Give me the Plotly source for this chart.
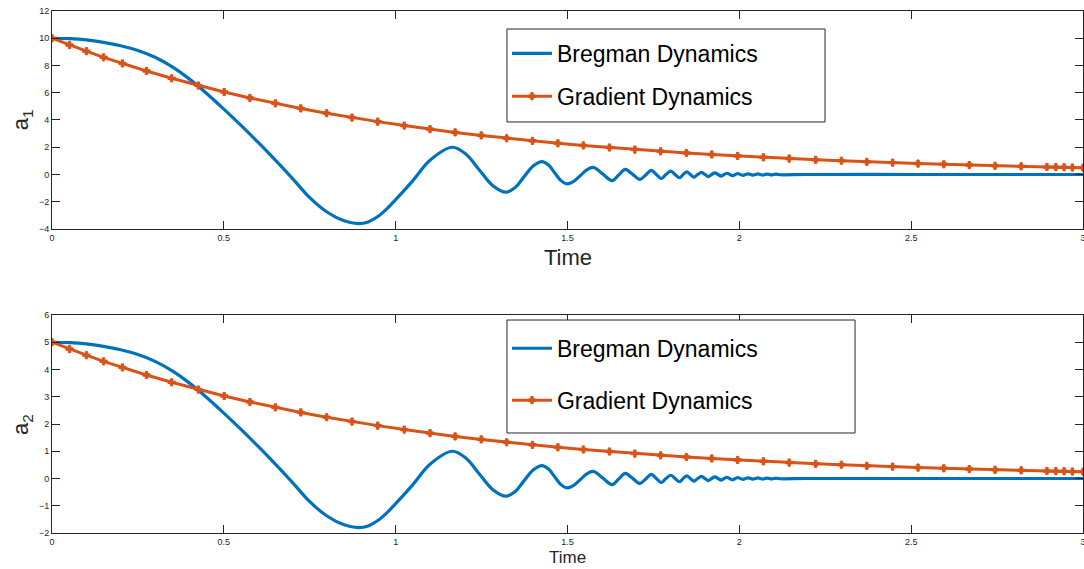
import plotly.graph_objects as go

# ---------------- data ----------------
bregman_t = [0.0, 0.05, 0.1, 0.15, 0.2, 0.25, 0.3, 0.35, 0.4, 0.45, 0.5, 0.55, 0.6, 0.65,
             0.7, 0.75, 0.8, 0.85, 0.89, 0.92, 0.95, 0.975, 1.0, 1.05, 1.1, 1.165,
             1.204, 1.243, 1.282, 1.321, 1.347, 1.3735, 1.40, 1.426, 1.444, 1.4625, 1.481,
             1.499, 1.518, 1.537, 1.556, 1.575, 1.6025, 1.630, 1.649, 1.668, 1.6895,
             1.711, 1.7275, 1.744, 1.7585, 1.773, 1.7865, 1.800, 1.813, 1.826, 1.8365,
             1.847, 1.8575, 1.868, 1.879, 1.890, 1.900, 1.910, 1.9195, 1.929, 1.938,
             1.947, 1.9555, 1.964, 1.972, 1.980, 1.988, 1.996, 2.0035, 2.011, 2.0185,
             2.026, 2.033, 2.040, 2.047, 2.054, 2.061, 2.068, 2.0745, 2.081, 2.0875,
             2.094, 2.1005, 2.107, 2.1135, 2.12, 2.2, 2.5, 2.8, 3.0]
bregman_a1 = [10.0, 9.97, 9.88, 9.7, 9.45, 9.1, 8.6, 7.9, 7.0, 5.95, 4.8, 3.6, 2.35, 1.05,
              -0.3, -1.7, -2.75, -3.4, -3.6, -3.48, -3.05, -2.5, -1.85, -0.45, 1.05, 2.0,
              1.5, 0.35, -0.8, -1.3, -0.97, -0.175, 0.62, 0.95, 0.71, 0.13, -0.45,
              -0.69, -0.51, -0.085, 0.34, 0.52, 0.035, -0.45, -0.035, 0.38, 0.01,
              -0.36, -0.03, 0.30, 0.0, -0.30, 0.0, 0.24, 0.0, -0.24, 0.0,
              0.19, 0.0, -0.19, 0.0, 0.15, 0.0, -0.15, 0.0, 0.12, 0.0,
              -0.12, 0.0, 0.09, 0.0, -0.09, 0.0, 0.07, 0.0, -0.07, 0.0,
              0.05, 0.0, -0.05, 0.0, 0.04, 0.0, -0.04, 0.0, 0.03, 0.0,
              -0.03, 0.0, 0.02, 0.0, -0.02, 0.0, 0.0, 0.0, 0.0]
bregman_a2 = [5.0, 4.985, 4.94, 4.85, 4.725, 4.55, 4.3, 3.95, 3.5, 2.975, 2.4, 1.8, 1.175, 0.525,
              -0.15, -0.85, -1.375, -1.7, -1.8, -1.74, -1.525, -1.25, -0.925, -0.225, 0.525, 1.0,
              0.75, 0.175, -0.4, -0.65, -0.485, -0.0875, 0.31, 0.475, 0.355, 0.065, -0.225,
              -0.345, -0.255, -0.0425, 0.17, 0.26, 0.0175, -0.225, -0.0175, 0.19, 0.005,
              -0.18, -0.015, 0.15, 0.0, -0.15, 0.0, 0.12, 0.0, -0.12, 0.0,
              0.095, 0.0, -0.095, 0.0, 0.075, 0.0, -0.075, 0.0, 0.06, 0.0,
              -0.06, 0.0, 0.045, 0.0, -0.045, 0.0, 0.035, 0.0, -0.035, 0.0,
              0.025, 0.0, -0.025, 0.0, 0.02, 0.0, -0.02, 0.0, 0.015, 0.0,
              -0.015, 0.0, 0.01, 0.0, -0.01, 0.0, 0.0, 0.0, 0.0]

gradient_t = [0.0, 0.051, 0.100, 0.150, 0.205, 0.275, 0.348, 0.426, 0.501, 0.576, 0.650,
              0.724, 0.799, 0.873, 0.948, 1.025, 1.100, 1.173, 1.249, 1.323, 1.398,
              1.472, 1.546, 1.622, 1.696, 1.771, 1.846, 1.920, 1.995, 2.070, 2.145,
              2.222, 2.297, 2.371, 2.446, 2.520, 2.595, 2.669, 2.744, 2.820, 2.895,
              2.921, 2.945, 2.969, 3.0]
gradient_a1 = [10.0, 9.5, 9.05, 8.6, 8.15, 7.6, 7.06, 6.53, 6.06, 5.62, 5.22,
               4.85, 4.5, 4.18, 3.88, 3.59, 3.33, 3.09, 2.87, 2.66, 2.47,
               2.29, 2.13, 1.98, 1.83, 1.70, 1.58, 1.47, 1.36, 1.26, 1.17,
               1.08, 1.01, 0.93, 0.87, 0.80, 0.75, 0.69, 0.64, 0.60, 0.55,
               0.54, 0.53, 0.51, 0.50]
gradient_a2 = [5.0, 4.75, 4.525, 4.3, 4.075, 3.8, 3.53, 3.265, 3.03, 2.81, 2.61,
               2.425, 2.25, 2.09, 1.94, 1.795, 1.665, 1.545, 1.435, 1.33, 1.235,
               1.145, 1.065, 0.99, 0.915, 0.85, 0.79, 0.735, 0.68, 0.63, 0.585,
               0.54, 0.505, 0.465, 0.435, 0.40, 0.375, 0.345, 0.32, 0.30, 0.275,
               0.27, 0.265, 0.255, 0.25]

x_ticks = [0, 0.5, 1, 1.5, 2, 2.5, 3]
x_ticktext = ["0", "0.5", "1", "1.5", "2", "2.5", "3"]
y1_ticks = [-4, -2, 0, 2, 4, 6, 8, 10, 12]
y2_ticks = [-2, -1, 0, 1, 2, 3, 4, 5, 6]

BLUE = "#0072BD"
ORANGE = "#D95319"
AX = "#262626"
FONT = "Liberation Sans, Arial, sans-serif"

fig = go.Figure()

fig.add_trace(go.Scatter(x=bregman_t, y=bregman_a1, mode="lines", name="Bregman Dynamics",
                         line=dict(color=BLUE, width=3.2, shape="spline", smoothing=1.0),
                         xaxis="x", yaxis="y", legend="legend", legendgroup="b1"))
fig.add_trace(go.Scatter(x=gradient_t, y=gradient_a1, mode="lines+markers", name="Gradient Dynamics",
                         line=dict(color=ORANGE, width=3),
                         marker=dict(symbol="cross", size=6, color=ORANGE,
                                     line=dict(color=ORANGE, width=1)),
                         xaxis="x", yaxis="y", legend="legend", legendgroup="g1"))
fig.add_trace(go.Scatter(x=bregman_t, y=bregman_a2, mode="lines", name="Bregman Dynamics",
                         line=dict(color=BLUE, width=3.2, shape="spline", smoothing=1.0),
                         xaxis="x2", yaxis="y2", legend="legend2", legendgroup="b2"))
fig.add_trace(go.Scatter(x=gradient_t, y=gradient_a2, mode="lines+markers", name="Gradient Dynamics",
                         line=dict(color=ORANGE, width=3),
                         marker=dict(symbol="cross", size=6, color=ORANGE,
                                     line=dict(color=ORANGE, width=1)),
                         xaxis="x2", yaxis="y2", legend="legend2", legendgroup="g2"))

axis_common = dict(showline=True, linecolor=AX, linewidth=1, mirror="ticks",
                   ticks="inside", ticklen=8, tickcolor=AX, showgrid=False, zeroline=False,
                   automargin=False,
                   tickfont=dict(size=9, color=AX, family=FONT))

fig.update_layout(
    width=1084, height=569,
    margin=dict(l=52, r=1, t=11, b=36),
    paper_bgcolor="white", plot_bgcolor="white",
    font=dict(family=FONT, color=AX),
    xaxis=dict(domain=[0, 1], range=[0, 3], tickvals=x_ticks, ticktext=x_ticktext,
               anchor="y", ticklabeloverflow="allow", **axis_common),
    yaxis=dict(domain=[0.5824, 1.0], range=[-4, 12], tickvals=y1_ticks, anchor="x", **axis_common),
    xaxis2=dict(domain=[0, 1], range=[0, 3], tickvals=x_ticks, ticktext=x_ticktext,
                anchor="y2", ticklabeloverflow="allow", **axis_common),
    yaxis2=dict(domain=[0, 0.4176], range=[-2, 6], tickvals=y2_ticks, anchor="x2", **axis_common),
    legend=dict(x=0.4413, y=0.96, xanchor="left", yanchor="top", bgcolor="rgba(0,0,0,0)",
                borderwidth=0, font=dict(size=23, color="black", family=FONT),
                tracegroupgap=10, itemwidth=40),
    legend2=dict(x=0.4413, y=0.395, xanchor="left", yanchor="top", bgcolor="rgba(0,0,0,0)",
                 borderwidth=0, font=dict(size=23, color="black", family=FONT),
                 tracegroupgap=19, itemwidth=40),
    shapes=[
        dict(type="rect", xref="paper", yref="paper", x0=0.4413, x1=0.7498, y0=0.7874, y1=0.9655,
             line=dict(color=AX, width=1), fillcolor="white", layer="above"),
        dict(type="rect", xref="paper", yref="paper", x0=0.4413, x1=0.7789, y0=0.1916, y1=0.408,
             line=dict(color=AX, width=1), fillcolor="white", layer="above"),
    ],
    annotations=[
        dict(text="a<sub>1</sub>", xref="paper", yref="paper", x=-0.029, y=0.791, textangle=-90,
             xanchor="center", yanchor="middle",
             showarrow=False, font=dict(size=22, color=AX, family=FONT)),
        dict(text="a<sub>2</sub>", xref="paper", yref="paper", x=-0.029, y=0.207, textangle=-90,
             xanchor="center", yanchor="middle",
             showarrow=False, font=dict(size=22, color=AX, family=FONT)),
        dict(text="Time", xref="paper", yref="paper", x=0.5, y=0.5287, showarrow=False,
             xanchor="center", yanchor="middle",
             font=dict(size=22, color=AX, family=FONT)),
        dict(text="Time", xref="paper", yref="paper", x=0.5, y=-0.046, showarrow=False,
             xanchor="center", yanchor="middle",
             font=dict(size=17, color=AX, family=FONT)),
    ],
)

fig.write_html("out.html", config={"displayModeBar": False},
               post_script="document.body.style.margin='0px';")
